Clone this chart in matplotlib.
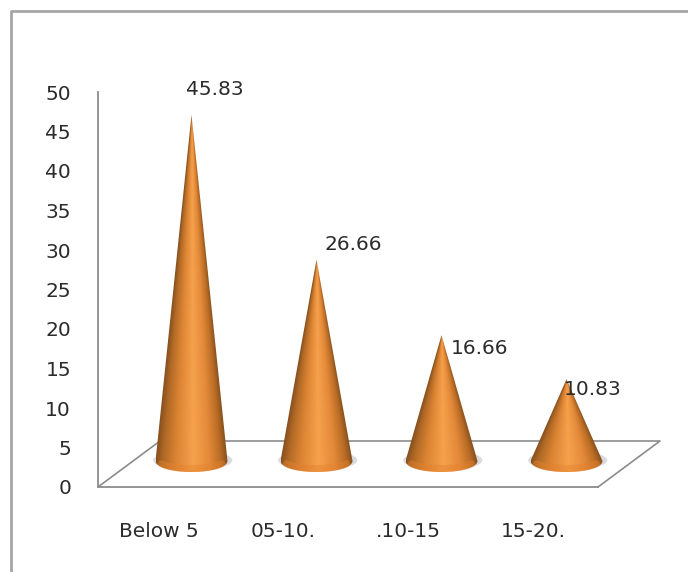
import numpy as np
import matplotlib
matplotlib.use('Agg')
import matplotlib.pyplot as plt
from matplotlib.colors import LinearSegmentedColormap
from matplotlib.patches import Ellipse, PathPatch
from matplotlib.path import Path

categories = ['Below 5', '05-10.', '.10-15', '15-20.']
values = [45.83, 26.66, 16.66, 10.83]
y_ticks = [0, 5, 10, 15, 20, 25, 30, 35, 40, 45, 50]

W, H = 688, 572
GRAY = '#8c8c8c'
TEXT = '#2b2b2b'


def box(left, top, right, bottom):
    return [left / W, 1 - bottom / H, (right - left) / W, (bottom - top) / H]


fig = plt.figure(figsize=(W / 100, H / 100), dpi=100)

# pixel layer for the outer frame and the floor
bg = fig.add_axes([0, 0, 1, 1])
bg.set_xlim(0, W)
bg.set_ylim(H, 0)
bg.axis('off')
bg.plot([11, 11, W], [H, 11, 11], color='#a6a6a6', lw=2)
bg.plot([98, 160, 660, 598], [487, 441, 441, 487], color=GRAY, lw=1.2)

# front axes: value ticks and category labels
ax = fig.add_axes(box(96, 92, 596, 487))
ax.patch.set_alpha(0)
ax.set_xlim(-0.5, 3.5)
ax.set_ylim(0, 50)
ax.set_xticks(range(len(categories)))
ax.set_xticklabels(categories)
ax.set_yticks(y_ticks)
ax.tick_params(axis='both', length=0, colors=TEXT)
ax.tick_params(axis='y', pad=18, labelsize=14.5)
ax.tick_params(axis='x', pad=25.5, labelsize=14.5)
for side in ['top', 'right', 'left', 'bottom']:
    ax.spines[side].set_visible(False)
bg.plot([98, 98, 598], [92, 487, 487], color=GRAY, lw=1.3)

# cones sit on the floor, further back than the front axes
unit = 7.55
floor_y = 461
cones = fig.add_axes(box(129, floor_y - 50 * unit, 629, floor_y + 3 * unit))
cones.set_xlim(-0.5, 3.5)
cones.set_ylim(-3, 50)
cones.axis('off')

cone_cmap = LinearSegmentedColormap.from_list('cone', [
    (0.0, '#8a5220'), (0.10, '#b26a26'), (0.28, '#dc8433'), (0.52, '#f6a14c'),
    (0.74, '#e48a3a'), (0.90, '#bb6d25'), (1.0, '#85501f')])

half_w = 36 / 125
half_h = 11 / unit

for i, v in enumerate(values):
    shadow = Ellipse((i + 0.01, 0.1), 2 * half_w * 1.1, 2 * half_h * 0.92,
                     color='#c9ccd2', alpha=0.7, lw=0, zorder=1)
    cones.add_patch(shadow)

    # outline: apex down one side, around the front of the base, back up
    t = np.linspace(np.pi, 2 * np.pi, 40)
    xs = np.concatenate([[i], i + half_w * np.cos(t), [i]])
    ys = np.concatenate([[v], half_h * np.sin(t), [v]])
    outline = PathPatch(Path(np.column_stack([xs, ys])), fc='none', ec='none')
    cones.add_patch(outline)

    # shading follows the cone surface, narrowing toward the apex
    gx, gy = np.meshgrid(np.linspace(i - half_w, i + half_w, 200),
                         np.linspace(v, -half_h, 400))
    width = np.maximum(half_w * (1 - np.maximum(gy, 0) / v), 1e-3)
    u = np.clip((gx - i) / width * 0.5 + 0.5, 0, 1)
    img = cones.imshow(u, cmap=cone_cmap, vmin=0, vmax=1, aspect='auto',
                       extent=[i - half_w, i + half_w, -half_h, v], zorder=2)
    img.set_clip_path(outline)

    # warm rim along the front of the base
    t_rim = np.linspace(np.pi * 1.12, np.pi * 1.88, 30)
    cones.plot(i + half_w * 0.9 * np.cos(t_rim), half_h * 0.68 * np.sin(t_rim),
               color='#e4822e', lw=5, alpha=0.45, solid_capstyle='round', zorder=3)

cones.set_xlim(-0.5, 3.5)
cones.set_ylim(-3, 50)

# value labels, each nudged clear of its apex
label_offsets = [(23, 25), (37, 15), (38, -13), (26, -10)]
for i, v in enumerate(values):
    cones.annotate(f'{v:.2f}', (i, v), xytext=label_offsets[i],
                   textcoords='offset pixels', ha='center', va='center',
                   fontsize=14.5, color=TEXT, zorder=5)

fig.savefig('out.png', dpi=100, facecolor='white')
